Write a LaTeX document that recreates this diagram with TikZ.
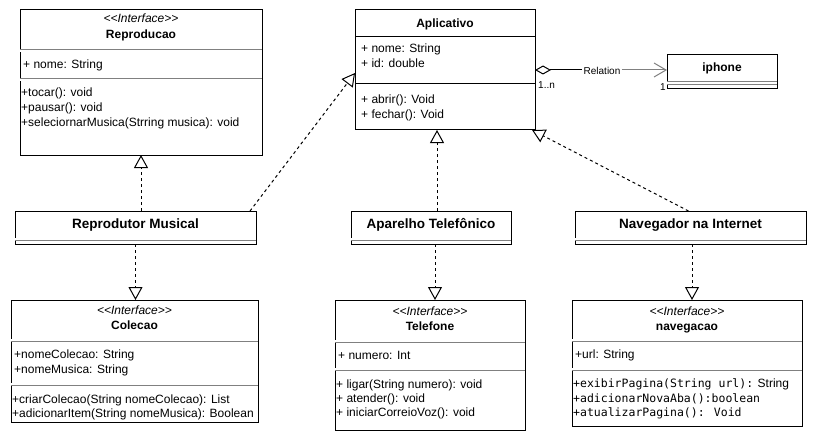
\documentclass[tikz,border=0pt]{standalone}
\usepackage{fontspec}
\setmainfont{Liberation Sans}
\newfontfamily\monofnt{DejaVu Sans Mono}
\usetikzlibrary{arrows.meta}
\newcommand{\stereotxt}[1]{{<}\kern0pt{<}#1{>}\kern0pt{>}}
\begin{document}
\begin{tikzpicture}[x=1pt,y=-1pt,
 box/.style={draw, line width=1pt, anchor=north west, inner sep=0pt, outer sep=0pt, fill=white},
 txt/.style={anchor=west, inner sep=0pt, font=\fontsize{12}{14}\selectfont, text height=10.4pt, text depth=2.4pt},
 ctxt/.style={txt, anchor=center},
 ttl/.style={ctxt, font=\fontsize{12}{14}\selectfont\bfseries},
 stereo/.style={ctxt, font=\fontsize{12}{14}\selectfont\itshape},
 hdr/.style={ctxt, font=\fontsize{13.5}{16}\selectfont\bfseries},
 mono/.style={txt, font=\fontsize{11.5}{14}\selectfont\monofnt},
 small/.style={inner sep=0pt, font=\fontsize{10}{12}\selectfont, text height=8.2pt, text depth=2pt},
 dsep/.style={draw=gray, double=white, double distance=1.2pt, line width=0.9pt},
 ssep/.style={draw, line width=1pt},
 real/.style={draw, line width=1pt, dash pattern=on 3pt off 3pt, -{Triangle[length=13pt, width=14pt, line width=1pt, fill=white]}}
]
\useasboundingbox (0,0) rectangle (816,441);

% Reproducao
\node[box, minimum width=242pt, minimum height=145pt] (repr) at (20,10) {};
\node[stereo] (reprst) at (141,19) {\stereotxt{Interface}};
\node[ttl] (reprt) at (141,35) {Reproducao};
\draw[dsep] ([yshift=-41pt]repr.north west) -- ([yshift=-41pt]repr.north east);
\node[txt] (repra1) at (23,65) {+ nome: String};
\draw[dsep] ([yshift=-70pt]repr.north west) -- ([yshift=-70pt]repr.north east);
\node[txt] (reprm1) at (21,93) {+tocar(): void};
\node[txt] (reprm2) at (21,108) {+pausar(): void};
\node[txt] (reprm3) at (21,123) {+seleciornarMusica(Strring musica): void};

% Aplicativo
\node[box, minimum width=180pt, minimum height=120pt] (app) at (355,10) {};
\node[ttl] (appt) at (445,24) {Aplicativo};
\draw[ssep] ([yshift=-27pt]app.north west) -- ([yshift=-27pt]app.north east);
\node[txt] (appa1) at (361,49) {+ nome: String};
\node[txt] (appa2) at (361,64) {+ id: double};
\draw[ssep] ([yshift=-74pt]app.north west) -- ([yshift=-74pt]app.north east);
\node[txt] (appm1) at (361,100) {+ abrir(): Void};
\node[txt] (appm2) at (361,115) {+ fechar(): Void};

% iphone
\node[box, minimum width=110pt, minimum height=34pt] (iph) at (667,55) {};
\node[ttl] (ipht) at (722,68) {iphone};
\draw[dsep, double distance=2.6pt] ([yshift=-28pt]iph.north west) -- ([yshift=-28pt]iph.north east);

% Relation
\node[small, fill=white, inner xsep=1pt] (rel) at (602,71) {Relation};
\draw[line width=1pt, {Diamond[open, length=16pt, width=9pt, line width=1pt]}-] (app.east) -- (rel.west |- app.east);
\draw[line width=1pt, draw=gray, -{Straight Barb[length=12pt, width=14pt, line width=1pt]}] (rel.east |- app.east) -- (app.east -| iph.west);
\node[small, anchor=west] (mult1) at (538,85) {1..n};
\node[small, anchor=east] (mult2) at (666,87) {1};

% Reprodutor Musical
\node[box, minimum width=241pt, minimum height=33pt] (rm) at (15,211) {};
\node[hdr] (rmt) at (135.5,224) {Reprodutor Musical};
\draw[dsep] ([yshift=-28pt]rm.north west) -- ([yshift=-28pt]rm.north east);

% Aparelho Telefonico
\node[box, minimum width=160pt, minimum height=33pt] (ap) at (351,211) {};
\node[hdr] (apt) at (431,224) {Aparelho Telefônico};
\draw[dsep] ([yshift=-28pt]ap.north west) -- ([yshift=-28pt]ap.north east);

% Navegador
\node[box, minimum width=231pt, minimum height=33pt] (nav) at (575,211) {};
\node[hdr] (navt) at (690.5,224) {Navegador na Internet};
\draw[dsep] ([yshift=-28pt]nav.north west) -- ([yshift=-28pt]nav.north east);

% Colecao
\node[box, minimum width=247pt, minimum height=122pt] (col) at (11,300) {};
\node[stereo] (colst) at (134.5,310) {\stereotxt{Interface}};
\node[ttl] (colt) at (134.5,325) {Colecao};
\draw[dsep] ([yshift=-40pt]col.north west) -- ([yshift=-40pt]col.north east);
\node[txt] (cola1) at (14,354) {+nomeColecao: String};
\node[txt] (cola2) at (14,369) {+nomeMusica: String};
\draw[dsep] ([yshift=-84pt]col.north west) -- ([yshift=-84pt]col.north east);
\node[txt] (colm1) at (12,399) {+criarColecao(String nomeColecao): List};
\node[txt] (colm2) at (12,413) {+adicionarItem(String nomeMusica): Boolean};

% Telefone
\node[box, minimum width=190pt, minimum height=130pt] (tel) at (335,300) {};
\node[stereo] (telst) at (430,311) {\stereotxt{Interface}};
\node[ttl] (telt) at (430,326) {Telefone};
\draw[dsep] ([yshift=-41pt]tel.north west) -- ([yshift=-41pt]tel.north east);
\node[txt] (tela1) at (338,355) {+ numero: Int};
\draw[dsep] ([yshift=-69pt]tel.north west) -- ([yshift=-69pt]tel.north east);
\node[txt] (telm1) at (336,384) {+ ligar(String numero): void};
\node[txt] (telm2) at (336,398) {+ atender(): void};
\node[txt] (telm3) at (336,412) {+ iniciarCorreioVoz(): void};

% navegacao
\node[box, minimum width=230pt, minimum height=126pt] (navg) at (572,300) {};
\node[stereo] (navgst) at (687,311) {\stereotxt{Interface}};
\node[ttl] (navgt) at (687,326) {navegacao};
\draw[dsep] ([yshift=-40pt]navg.north west) -- ([yshift=-40pt]navg.north east);
\node[txt] (navga1) at (575,354) {+url: String};
\draw[dsep] ([yshift=-69pt]navg.north west) -- ([yshift=-69pt]navg.north east);
\node[mono] (navgm1) at (573,383) {+exibirPagina(String url):\fontspec{Liberation Sans}\fontsize{12}{14}\selectfont{} String};
\node[mono] (navgm2) at (573,398) {+adicionarNovaAba():boolean};
\node[mono] (navgm3) at (573,412) {+atualizarPagina(): Void};

% realizations
\draw[real] (rm.north -| repr.south) -- (repr.south);
\draw[real] (rm.south) -- (rm.south |- col.north);
\draw[real] ([xshift=-6pt]rm.north east) -- ([yshift=-3pt]app.west);
\draw[real] ([xshift=6pt]ap.north) -- ([xshift=6pt]ap.north |- app.south);
\draw[real] ([xshift=-2pt]nav.north) -- ([xshift=-3pt]app.south east);
\draw[real] ([xshift=4pt]ap.south) -- ([xshift=4pt]ap.south |- tel.north);
\draw[real] ([xshift=1.5pt]nav.south) -- ([xshift=1.5pt]nav.south |- navg.north);
\end{tikzpicture}
\end{document}
